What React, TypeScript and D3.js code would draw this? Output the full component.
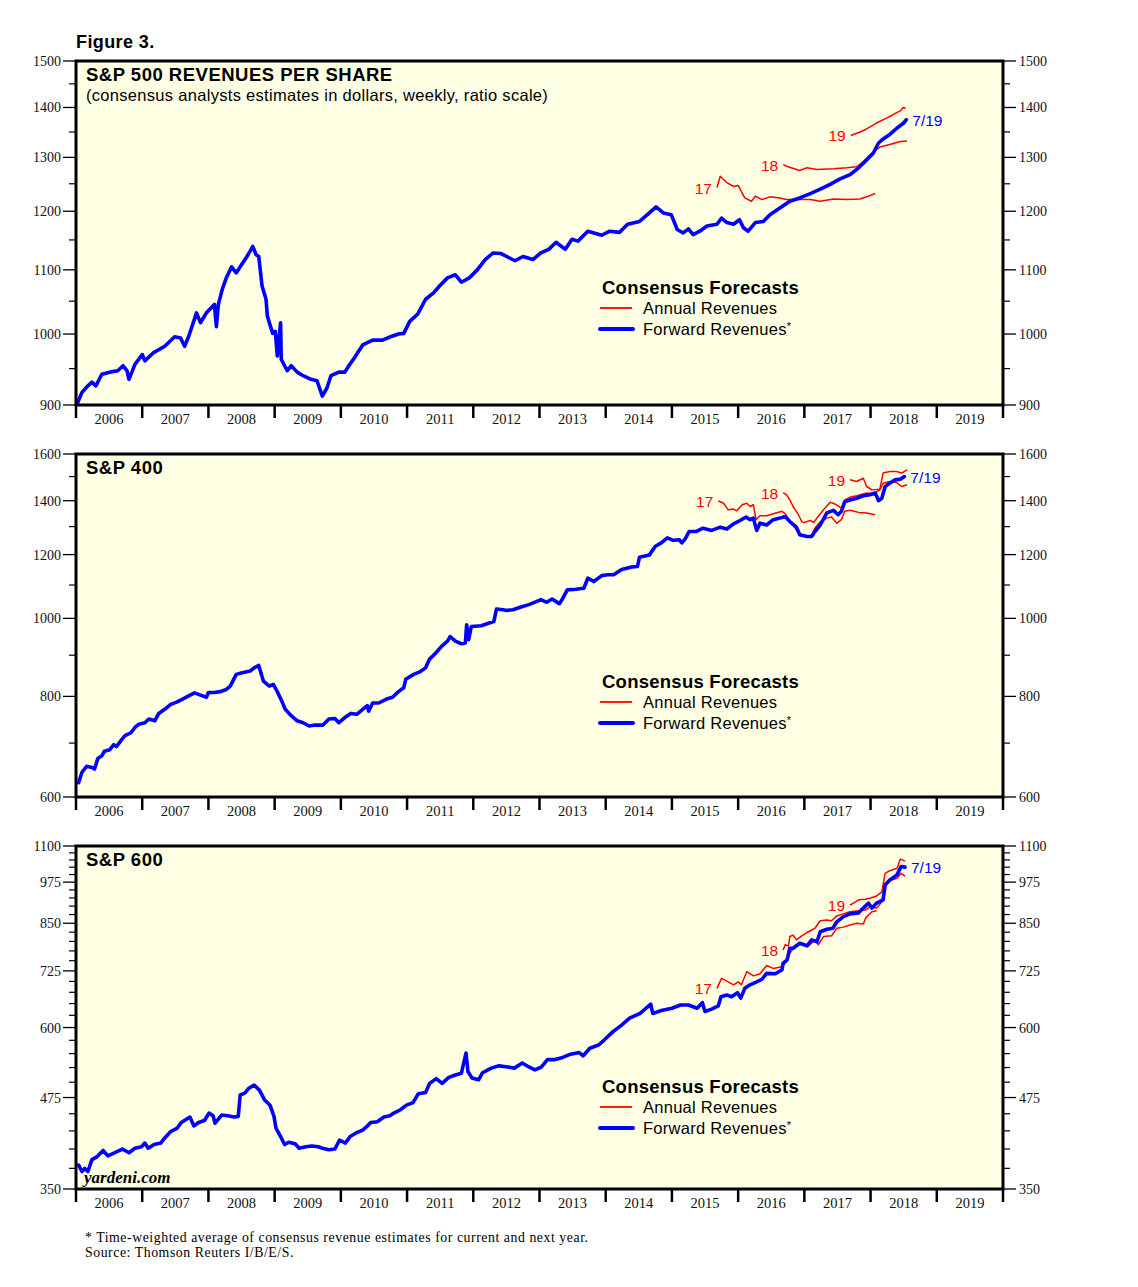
import React from 'react';
import * as d3 from 'd3';

type Pt = [number, number];

// x axis: calendar years
const YEAR_START = 2006;
const YEAR_END = 2020;
const YEAR_LABELS = d3.range(2006, 2020);

// ---------- S&P 500 ----------
const SP500_TICKS = [900, 1000, 1100, 1200, 1300, 1400, 1500];
const SP500_MINOR = [950, 1050, 1150, 1250, 1350, 1450];
const SP500_FWD: Pt[] = [
  [2006.02, 902], [2006.09, 917], [2006.18, 926], [2006.24, 931], [2006.30, 926], [2006.39, 942],
  [2006.51, 945], [2006.63, 947], [2006.71, 954], [2006.77, 947], [2006.80, 935], [2006.89, 956],
  [2007.00, 970], [2007.04, 961], [2007.16, 972], [2007.34, 982], [2007.49, 996], [2007.58, 994],
  [2007.64, 982], [2007.70, 996], [2007.82, 1032], [2007.88, 1017], [2007.97, 1032], [2008.09, 1045],
  [2008.12, 1011], [2008.15, 1045], [2008.21, 1069], [2008.27, 1087], [2008.35, 1105], [2008.42, 1095],
  [2008.48, 1105], [2008.57, 1120], [2008.63, 1131], [2008.67, 1139], [2008.72, 1125], [2008.76, 1122],
  [2008.81, 1074], [2008.87, 1053], [2008.89, 1027], [2008.97, 1001], [2009.01, 1004], [2009.04, 968],
  [2009.09, 1017], [2009.10, 963], [2009.19, 947], [2009.25, 954], [2009.34, 945], [2009.43, 940],
  [2009.55, 935], [2009.64, 933], [2009.72, 912], [2009.79, 923], [2009.85, 940], [2009.97, 945],
  [2010.06, 945], [2010.12, 954], [2010.21, 966], [2010.33, 984], [2010.48, 991], [2010.63, 991],
  [2010.75, 996], [2010.87, 1000], [2010.95, 1001], [2011.04, 1019], [2011.16, 1030], [2011.28, 1053],
  [2011.40, 1063], [2011.49, 1074], [2011.61, 1087], [2011.73, 1092], [2011.82, 1080], [2011.94, 1087],
  [2012.06, 1100], [2012.18, 1117], [2012.30, 1128], [2012.42, 1127], [2012.54, 1120], [2012.63, 1115],
  [2012.75, 1122], [2012.90, 1117], [2013.02, 1128], [2013.14, 1134], [2013.25, 1146], [2013.39, 1134],
  [2013.49, 1151], [2013.58, 1148], [2013.73, 1165], [2013.94, 1158], [2014.06, 1165], [2014.21, 1163],
  [2014.33, 1177], [2014.51, 1182], [2014.63, 1194], [2014.76, 1208], [2014.87, 1197], [2014.99, 1194],
  [2015.08, 1168], [2015.17, 1162], [2015.25, 1169], [2015.32, 1159], [2015.42, 1165], [2015.53, 1174],
  [2015.68, 1177], [2015.75, 1188], [2015.83, 1180], [2015.93, 1177], [2016.02, 1185], [2016.08, 1171],
  [2016.15, 1165], [2016.26, 1180], [2016.38, 1182], [2016.48, 1194], [2016.63, 1206], [2016.78, 1218],
  [2016.93, 1224], [2017.09, 1232], [2017.24, 1240], [2017.39, 1249], [2017.54, 1259], [2017.69, 1267],
  [2017.82, 1280], [2017.94, 1295], [2018.04, 1308], [2018.12, 1328], [2018.19, 1336], [2018.29, 1345],
  [2018.40, 1358], [2018.50, 1368], [2018.54, 1375],
];
const SP500_17: Pt[] = [
  [2015.68, 1243], [2015.73, 1264], [2015.83, 1252], [2015.93, 1245], [2016.00, 1247], [2016.10, 1224],
  [2016.20, 1218], [2016.26, 1227], [2016.36, 1221], [2016.48, 1226], [2016.63, 1224], [2016.73, 1221],
  [2016.93, 1221], [2017.09, 1221], [2017.24, 1218], [2017.44, 1222], [2017.64, 1221], [2017.84, 1222],
  [2017.94, 1226], [2018.07, 1232],
];
const SP500_18: Pt[] = [
  [2016.68, 1286], [2016.73, 1283], [2016.93, 1275], [2017.04, 1280], [2017.19, 1277], [2017.44, 1278],
  [2017.64, 1280], [2017.79, 1282], [2017.89, 1292], [2017.99, 1305], [2018.14, 1320], [2018.29, 1325],
  [2018.45, 1331], [2018.55, 1332],
];
const SP500_19: Pt[] = [
  [2017.70, 1343], [2017.84, 1350], [2017.94, 1356], [2018.09, 1368], [2018.24, 1378], [2018.34, 1385],
  [2018.46, 1394], [2018.49, 1400], [2018.53, 1398],
];

// ---------- S&P 400 ----------
const SP400_TICKS = [600, 800, 1000, 1200, 1400, 1600];
const SP400_MINOR = [700, 900, 1100, 1300, 1500];
const SP400_FWD: Pt[] = [
  [2006.04, 625], [2006.09, 644], [2006.16, 655], [2006.24, 653], [2006.28, 650], [2006.33, 670],
  [2006.39, 675], [2006.43, 684], [2006.51, 687], [2006.57, 697], [2006.61, 693], [2006.69, 707],
  [2006.74, 715], [2006.83, 721], [2006.89, 732], [2006.95, 739], [2007.04, 742], [2007.10, 750],
  [2007.19, 746], [2007.25, 762], [2007.34, 771], [2007.43, 782], [2007.52, 787], [2007.61, 794],
  [2007.70, 801], [2007.79, 808], [2007.88, 803], [2007.97, 798], [2008.00, 809], [2008.09, 809],
  [2008.18, 811], [2008.27, 816], [2008.33, 824], [2008.42, 852], [2008.51, 856], [2008.63, 860],
  [2008.69, 868], [2008.76, 874], [2008.83, 836], [2008.92, 824], [2008.98, 828], [2009.04, 811],
  [2009.10, 792], [2009.16, 771], [2009.25, 757], [2009.34, 746], [2009.43, 742], [2009.52, 735],
  [2009.61, 737], [2009.73, 737], [2009.82, 750], [2009.91, 751], [2009.97, 742], [2010.06, 753],
  [2010.15, 762], [2010.24, 760], [2010.33, 771], [2010.40, 779], [2010.42, 767], [2010.48, 785],
  [2010.57, 785], [2010.69, 794], [2010.78, 798], [2010.87, 811], [2010.95, 820], [2010.98, 840],
  [2011.10, 852], [2011.19, 858], [2011.28, 868], [2011.34, 890], [2011.43, 905], [2011.52, 923],
  [2011.61, 937], [2011.65, 949], [2011.73, 937], [2011.82, 930], [2011.88, 932], [2011.90, 982],
  [2011.93, 941], [2011.97, 977], [2012.12, 979], [2012.24, 987], [2012.31, 991], [2012.35, 1027],
  [2012.45, 1025], [2012.51, 1023], [2012.60, 1025], [2012.72, 1033], [2012.84, 1040], [2012.96, 1050],
  [2013.02, 1055], [2013.11, 1047], [2013.19, 1057], [2013.30, 1043], [2013.34, 1055], [2013.42, 1085],
  [2013.55, 1087], [2013.67, 1090], [2013.73, 1122], [2013.82, 1111], [2013.94, 1130], [2014.03, 1133],
  [2014.12, 1133], [2014.24, 1150], [2014.39, 1158], [2014.48, 1160], [2014.51, 1191], [2014.66, 1199],
  [2014.75, 1229], [2014.84, 1241], [2014.93, 1259], [2015.02, 1250], [2015.11, 1252], [2015.15, 1241],
  [2015.20, 1255], [2015.26, 1282], [2015.37, 1282], [2015.47, 1294], [2015.60, 1286], [2015.73, 1298],
  [2015.83, 1291], [2015.93, 1310], [2016.03, 1323], [2016.12, 1336], [2016.18, 1326], [2016.23, 1332],
  [2016.28, 1286], [2016.33, 1313], [2016.43, 1306], [2016.53, 1326], [2016.63, 1332], [2016.71, 1338],
  [2016.78, 1319], [2016.88, 1298], [2016.93, 1270], [2017.04, 1264], [2017.11, 1264], [2017.16, 1282],
  [2017.24, 1306], [2017.34, 1352], [2017.44, 1362], [2017.51, 1345], [2017.56, 1358], [2017.61, 1396],
  [2017.69, 1403], [2017.79, 1410], [2017.89, 1420], [2017.99, 1424], [2018.07, 1431], [2018.12, 1400],
  [2018.17, 1410], [2018.22, 1458], [2018.29, 1472], [2018.37, 1486], [2018.45, 1489], [2018.51, 1500],
];
const SP400_17: Pt[] = [
  [2015.70, 1399], [2015.78, 1390], [2015.85, 1364], [2015.93, 1367], [2015.98, 1360], [2016.06, 1384],
  [2016.13, 1390], [2016.18, 1377], [2016.23, 1384], [2016.27, 1326], [2016.33, 1341], [2016.43, 1341],
  [2016.53, 1349], [2016.66, 1358], [2016.71, 1349], [2016.78, 1322], [2016.86, 1295], [2016.93, 1270],
  [2017.04, 1263], [2017.11, 1267], [2017.16, 1295], [2017.24, 1318], [2017.34, 1332], [2017.41, 1336],
  [2017.49, 1313], [2017.56, 1326], [2017.61, 1358], [2017.69, 1362], [2017.82, 1354], [2017.94, 1352],
  [2018.07, 1345],
];
const SP400_18: Pt[] = [
  [2016.68, 1433], [2016.73, 1424], [2016.78, 1403], [2016.83, 1377], [2016.91, 1345], [2016.96, 1319],
  [2016.99, 1315], [2017.09, 1323], [2017.14, 1315], [2017.21, 1339], [2017.29, 1364], [2017.39, 1394],
  [2017.46, 1387], [2017.56, 1371], [2017.61, 1403], [2017.69, 1414], [2017.79, 1420], [2017.94, 1431],
  [2018.04, 1428], [2018.14, 1444], [2018.19, 1472], [2018.29, 1479], [2018.39, 1475], [2018.47, 1458],
  [2018.55, 1465],
];
const SP400_19: Pt[] = [
  [2017.69, 1486], [2017.79, 1479], [2017.89, 1493], [2017.94, 1458], [2018.02, 1444], [2018.14, 1447],
  [2018.19, 1515], [2018.29, 1522], [2018.39, 1522], [2018.47, 1515], [2018.55, 1529],
];

// ---------- S&P 600 ----------
const SP600_TICKS = [350, 475, 600, 725, 850, 975, 1100];
const SP600_MINOR = d3.range(375, 1100, 25).filter((v) => !SP600_TICKS.includes(v));
const SP600_FWD: Pt[] = [
  [2006.04, 379], [2006.09, 371], [2006.13, 375], [2006.18, 371], [2006.24, 386], [2006.32, 390],
  [2006.41, 398], [2006.48, 391], [2006.58, 395], [2006.70, 400], [2006.80, 395], [2006.89, 401],
  [2006.99, 403], [2007.04, 408], [2007.09, 401], [2007.18, 406], [2007.28, 408], [2007.34, 415],
  [2007.43, 424], [2007.53, 429], [2007.59, 437], [2007.72, 445], [2007.78, 432], [2007.85, 437],
  [2007.94, 440], [2008.01, 451], [2008.07, 447], [2008.10, 436], [2008.20, 448], [2008.29, 447],
  [2008.39, 445], [2008.45, 446], [2008.48, 479], [2008.55, 482], [2008.61, 490], [2008.69, 495],
  [2008.77, 487], [2008.85, 471], [2008.93, 463], [2008.99, 446], [2009.02, 429], [2009.09, 417],
  [2009.15, 406], [2009.21, 409], [2009.31, 407], [2009.37, 401], [2009.47, 403], [2009.56, 404],
  [2009.66, 403], [2009.72, 401], [2009.82, 399], [2009.91, 400], [2009.98, 412], [2010.07, 408],
  [2010.14, 417], [2010.23, 422], [2010.33, 426], [2010.39, 431], [2010.45, 437], [2010.55, 438],
  [2010.65, 445], [2010.74, 447], [2010.80, 451], [2010.90, 456], [2010.99, 463], [2011.09, 467],
  [2011.17, 481], [2011.28, 483], [2011.34, 498], [2011.44, 506], [2011.53, 498], [2011.63, 508],
  [2011.73, 512], [2011.82, 515], [2011.89, 551], [2011.92, 518], [2011.98, 507], [2012.08, 504],
  [2012.14, 516], [2012.27, 524], [2012.39, 528], [2012.52, 526], [2012.62, 524], [2012.74, 533],
  [2012.84, 526], [2012.93, 521], [2013.03, 526], [2013.12, 539], [2013.22, 539], [2013.35, 543],
  [2013.47, 549], [2013.60, 552], [2013.66, 546], [2013.76, 560], [2013.89, 566], [2013.98, 576],
  [2014.11, 592], [2014.24, 605], [2014.36, 619], [2014.52, 629], [2014.68, 649], [2014.71, 629],
  [2014.84, 635], [2015.00, 640], [2015.13, 647], [2015.25, 647], [2015.38, 640], [2015.46, 652],
  [2015.50, 633], [2015.60, 638], [2015.70, 645], [2015.74, 665], [2015.83, 669], [2015.90, 665],
  [2015.99, 674], [2016.04, 662], [2016.10, 684], [2016.18, 692], [2016.28, 699], [2016.36, 705],
  [2016.43, 719], [2016.56, 718], [2016.66, 727], [2016.68, 744], [2016.74, 752], [2016.78, 782],
  [2016.83, 782], [2016.93, 795], [2017.04, 788], [2017.11, 804], [2017.19, 799], [2017.24, 826],
  [2017.34, 833], [2017.43, 836], [2017.49, 854], [2017.59, 869], [2017.69, 877], [2017.82, 880],
  [2017.89, 894], [2017.97, 909], [2018.02, 894], [2018.09, 909], [2018.19, 919], [2018.22, 966],
  [2018.29, 982], [2018.40, 999], [2018.46, 1027], [2018.52, 1025],
];
const SP600_17: Pt[] = [
  [2015.68, 684], [2015.75, 707], [2015.85, 699], [2015.93, 692], [2016.00, 699], [2016.05, 692],
  [2016.13, 723], [2016.23, 713], [2016.33, 718], [2016.43, 738], [2016.53, 731], [2016.66, 735],
  [2016.73, 748], [2016.78, 769], [2016.88, 791], [2016.98, 795], [2017.06, 788], [2017.16, 804],
  [2017.21, 791], [2017.29, 813], [2017.41, 815], [2017.49, 836], [2017.59, 839], [2017.69, 845],
  [2017.79, 850], [2017.89, 848], [2017.93, 866], [2018.02, 883], [2018.09, 886],
];
const SP600_18: Pt[] = [
  [2016.68, 777], [2016.71, 791], [2016.76, 788], [2016.78, 813], [2016.83, 817], [2016.88, 804],
  [2016.96, 815], [2017.04, 824], [2017.11, 831], [2017.16, 836], [2017.24, 857], [2017.34, 859],
  [2017.41, 857], [2017.49, 871], [2017.59, 877], [2017.69, 883], [2017.82, 886], [2017.92, 888],
  [2017.99, 898], [2018.09, 894], [2018.17, 913], [2018.22, 971], [2018.29, 980], [2018.40, 988],
  [2018.46, 1004], [2018.52, 995],
];
const SP600_19: Pt[] = [
  [2017.69, 903], [2017.82, 919], [2017.92, 921], [2017.99, 924], [2018.09, 931], [2018.17, 944],
  [2018.22, 1004], [2018.29, 1013], [2018.40, 1021], [2018.45, 1053], [2018.52, 1046],
];

const ANNUAL_LABELS = ['17', '18', '19'];
const LAST_LABEL = '7/19';

const SANS = '"Liberation Sans", Arial, Helvetica, sans-serif';
const SERIF = '"Liberation Serif", "Times New Roman", Times, serif';
const BG = '#ffffe4';
const LEFT = 76;
const RIGHT = 1003;

interface PanelProps {
  top: number;
  bottom: number;
  domain: [number, number];
  ticks: number[];
  minor: number[];
  title: string;
  subtitle?: string;
  fwd: Pt[];
  annual: Pt[][];
  legendY: number;
  watermark?: boolean;
}

const Panel: React.FC<PanelProps> = ({ top, bottom, domain, ticks, minor, title, subtitle, fwd, annual, legendY, watermark }) => {
  const x = d3.scaleLinear().domain([YEAR_START, YEAR_END]).range([LEFT, RIGHT]);
  const y = d3.scaleLog().domain(domain).range([bottom, top]);
  const line = d3.line<Pt>().x((d) => x(d[0])).y((d) => y(d[1]));
  const last = fwd[fwd.length - 1];

  return (
    <g>
      <rect x={LEFT} y={top} width={RIGHT - LEFT} height={bottom - top} fill={BG} />

      {/* y axes, both sides */}
      {ticks.map((t) => (
        <g key={'t' + t} fontFamily={SERIF} fontSize={14} fill="#111">
          <line x1={LEFT - 13} x2={LEFT} y1={y(t)} y2={y(t)} stroke="#000" strokeWidth={1.3} />
          <line x1={RIGHT} x2={RIGHT + 13} y1={y(t)} y2={y(t)} stroke="#000" strokeWidth={1.3} />
          <text x={LEFT - 15} y={y(t) + 5} textAnchor="end">{t}</text>
          <text x={RIGHT + 16} y={y(t) + 5}>{t}</text>
        </g>
      ))}
      {minor.map((t) => (
        <g key={'m' + t}>
          <line x1={LEFT - 7} x2={LEFT} y1={y(t)} y2={y(t)} stroke="#000" strokeWidth={1.2} />
          <line x1={RIGHT} x2={RIGHT + 7} y1={y(t)} y2={y(t)} stroke="#000" strokeWidth={1.2} />
        </g>
      ))}

      {/* x axis */}
      {d3.range(YEAR_START, YEAR_END + 1).map((yr) => (
        <line key={'x' + yr} x1={x(yr)} x2={x(yr)} y1={bottom} y2={bottom + 13} stroke="#000" strokeWidth={2.5} />
      ))}
      {YEAR_LABELS.map((yr) => (
        <text key={'l' + yr} x={x(yr + 0.5)} y={bottom + 19} textAnchor="middle" fontFamily={SERIF} fontSize={14.5} fill="#111">
          {yr}
        </text>
      ))}

      {/* series */}
      {annual.map((s, i) => (
        <g key={'a' + i}>
          <path d={line(s) || ''} fill="none" stroke="#ff0000" strokeWidth={1.5} strokeLinejoin="round" />
          <text x={x(s[0][0]) - 5} y={y(s[0][1]) + 6} textAnchor="end" fontFamily={SANS} fontSize={15.5} fill="#ff0000">
            {ANNUAL_LABELS[i]}
          </text>
        </g>
      ))}
      <path d={line(fwd) || ''} fill="none" stroke="#0000ff" strokeWidth={3.6} strokeLinejoin="round" strokeLinecap="round" />
      <text x={x(last[0]) + 6} y={y(last[1]) + 6} fontFamily={SANS} fontSize={15.5} fill="#0000ff">{LAST_LABEL}</text>

      {/* titles */}
      <text x={86} y={top + 20} fontFamily={SANS} fontSize={18.5} letterSpacing={0.5} fontWeight="bold" fill="#000">{title}</text>
      {subtitle && (
        <text x={86} y={top + 40} fontFamily={SANS} fontSize={16.5} letterSpacing={0.3} fill="#000">{subtitle}</text>
      )}

      {/* legend */}
      <g fontFamily={SANS}>
        <text x={602} y={legendY} fontSize={18.5} letterSpacing={0.25} fontWeight="bold" fill="#000">Consensus Forecasts</text>
        <line x1={600} x2={632} y1={legendY + 14} y2={legendY + 14} stroke="#ff0000" strokeWidth={1.8} />
        <text x={643} y={legendY + 19.5} fontSize={16.5} letterSpacing={0.27} fill="#000">Annual Revenues</text>
        <line x1={600} x2={633} y1={legendY + 35} y2={legendY + 35} stroke="#0000ff" strokeWidth={4} strokeLinecap="round" />
        <text x={643} y={legendY + 40.5} fontSize={16.5} letterSpacing={0.27} fill="#000">Forward Revenues<tspan fontSize={11} dy={-5}>*</tspan></text>
      </g>

      {watermark && (
        <text x={84} y={bottom - 6} fontFamily={SERIF} fontSize={17} fontStyle="italic" fontWeight="bold" fill="#000">yardeni.com</text>
      )}

      <rect x={LEFT} y={top} width={RIGHT - LEFT} height={bottom - top} fill="none" stroke="#000" strokeWidth={3} />
    </g>
  );
};

export default function App() {
  return (
    <div style={{ position: 'absolute', left: 0, top: 0, background: '#fff' }}>
      <svg width={1138} height={1287} viewBox="0 0 1138 1287">
        <rect width={1138} height={1287} fill="#fff" />
        <text x={76} y={48} fontFamily={SANS} fontSize={18} letterSpacing={0.4} fontWeight="bold" fill="#000">Figure 3.</text>
        <Panel
          top={61} bottom={405} domain={[900, 1500]} ticks={SP500_TICKS} minor={SP500_MINOR}
          title="S&P 500 REVENUES PER SHARE"
          subtitle="(consensus analysts estimates in dollars, weekly, ratio scale)"
          fwd={SP500_FWD} annual={[SP500_17, SP500_18, SP500_19]} legendY={294}
        />
        <Panel
          top={454} bottom={797} domain={[600, 1600]} ticks={SP400_TICKS} minor={SP400_MINOR}
          title="S&P 400"
          fwd={SP400_FWD} annual={[SP400_17, SP400_18, SP400_19]} legendY={688}
        />
        <Panel
          top={846} bottom={1189} domain={[350, 1100]} ticks={SP600_TICKS} minor={SP600_MINOR}
          title="S&P 600"
          fwd={SP600_FWD} annual={[SP600_17, SP600_18, SP600_19]} legendY={1093} watermark
        />
        <text x={85} y={1242} fontFamily={SERIF} fontSize={13.8} letterSpacing={0.55} fill="#000">
          * Time-weighted average of consensus revenue estimates for current and next year.
        </text>
        <text x={85} y={1257} fontFamily={SERIF} fontSize={13.8} letterSpacing={0.55} fill="#000">Source: Thomson Reuters I/B/E/S.</text>
      </svg>
    </div>
  );
}
